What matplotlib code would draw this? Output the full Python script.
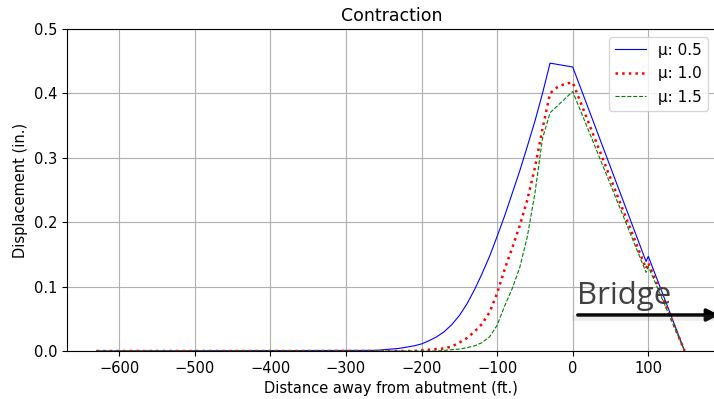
import matplotlib.pyplot as plt
from matplotlib.patches import FancyArrowPatch

plt.rcParams['font.size'] = 10.5

# distance from abutment (ft.)
distance = [-630, -260, -250, -240, -230, -220, -210, -200, -190, -180, -170,
            -160, -150, -140, -130, -120, -110, -100, -90, -80, -70, -60,
            -50, -40, -30, -20, -10, 0, 97, 100, 148]

# displacement (in.) for each friction coefficient
disp_mu05 = [0.0, 0.001, 0.002, 0.003, 0.004, 0.006, 0.008, 0.011, 0.016,
             0.022, 0.030, 0.041, 0.055, 0.073, 0.095, 0.120, 0.147, 0.178,
             0.210, 0.245, 0.280, 0.318, 0.357, 0.400, 0.447, 0.445, 0.443,
             0.441, 0.139, 0.147, 0.0]
disp_mu10 = [0.0, 0.0, 0.0, 0.0, 0.0, 0.0, 0.0, 0.001, 0.002, 0.003, 0.004,
             0.007, 0.013, 0.020, 0.030, 0.042, 0.060, 0.090, 0.127, 0.160,
             0.195, 0.235, 0.285, 0.345, 0.400, 0.410, 0.415, 0.417, 0.128,
             0.137, 0.0]
disp_mu15 = [0.0, 0.0, 0.0, 0.0, 0.0, 0.0, 0.0, 0.0, 0.0, 0.0, 0.001,
             0.002, 0.003, 0.005, 0.008, 0.013, 0.022, 0.040, 0.070, 0.097,
             0.130, 0.178, 0.245, 0.330, 0.370, 0.381, 0.392, 0.403, 0.122,
             0.131, 0.0]

fig = plt.figure(figsize=(7.14, 3.99), dpi=100)
ax = fig.add_axes([67 / 714, 48 / 399, 648.6 / 714, 322 / 399])

ax.plot(distance, disp_mu05, color='blue', lw=0.8, ls='-', label='μ: 0.5')
ax.plot(distance, disp_mu10, color='red', lw=1.8, ls=':', label='μ: 1.0')
ax.plot(distance, disp_mu15, color='green', lw=0.8, ls='--', label='μ: 1.5')

ax.set_xlim(-669, 189)
ax.set_ylim(0, 0.5)
ax.set_title('Contraction', fontsize=12.5)
ax.set_xlabel('Distance away from abutment (ft.)')
ax.set_ylabel('Displacement (in.)')
ax.grid(True)
ax.legend(loc='upper right', fontsize=11, labelspacing=0.55)

# "Bridge" marker pasted over the chart
fig.text(577 / 714, 1 - 304 / 399, 'Bridge', fontsize=22.5, color='#404040',
         family='Open Sans')
fig.add_artist(plt.Line2D([575 / 714, 716 / 714], [1 - 318 / 399, 1 - 318 / 399],
                          color='gray', lw=4, alpha=0.15))
fig.patches.append(FancyArrowPatch(
    (575 / 714, 1 - 315 / 399), (722 / 714, 1 - 315 / 399),
    transform=fig.transFigure, arrowstyle='-|>', mutation_scale=18,
    color='black', lw=2.5))

fig.savefig('out.png', dpi=100)
